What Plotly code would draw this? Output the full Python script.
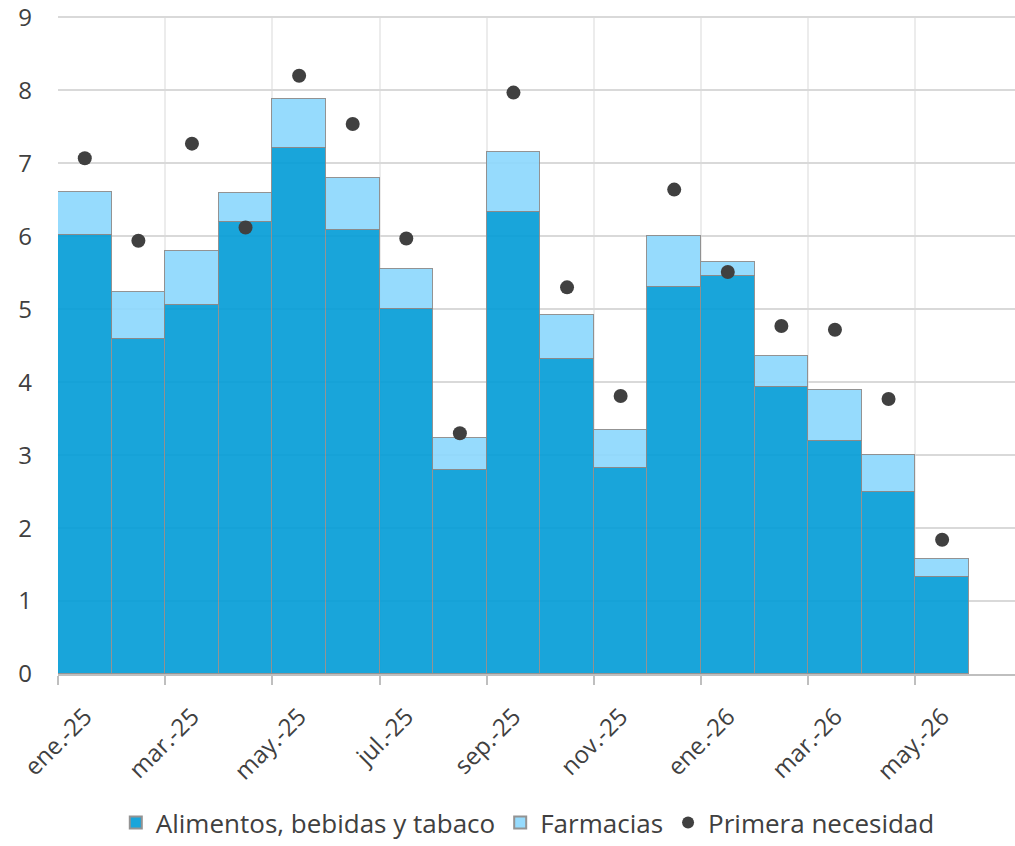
import plotly.graph_objects as go

months = ["ene.-25", "feb.-25", "mar.-25", "abr.-25", "may.-25", "jun.-25", "jul.-25",
          "ago.-25", "sep.-25", "oct.-25", "nov.-25", "dic.-25", "ene.-26", "feb.-26",
          "mar.-26", "abr.-26", "may.-26"]
alimentos = [6.02, 4.59, 5.06, 6.20, 7.21, 6.09, 5.00, 2.79, 6.33, 4.32, 2.82, 5.31,
             5.46, 3.94, 3.20, 2.49, 1.33]
farmacias = [0.59, 0.64, 0.74, 0.39, 0.67, 0.71, 0.55, 0.45, 0.82, 0.60, 0.52, 0.70,
             0.19, 0.42, 0.70, 0.51, 0.24]
primera = [7.07, 5.94, 7.27, 6.12, 8.20, 7.54, 5.97, 3.30, 7.97, 5.30, 3.81, 6.64,
           5.51, 4.77, 4.72, 3.77, 1.84]
tick_labels = months[::2]

n = len(months)
xc = [i + 0.5 for i in range(n)]
tickvals = list(range(0, n, 2))

font = "Open Sans, DejaVu Sans, sans-serif"
txt = "#404040"

fig = go.Figure()
fig.add_trace(go.Bar(
    x=xc, y=alimentos, width=1, name="Alimentos, bebidas y tabaco",
    marker=dict(color="#069ED7", line=dict(color="#8a8a8a", width=1)), opacity=0.92,
    customdata=months, hovertemplate="%{customdata}: %{y}<extra></extra>"))
fig.add_trace(go.Bar(
    x=xc, y=farmacias, width=1, name="Farmacias",
    marker=dict(color="#8ED8FD", line=dict(color="#8a8a8a", width=1)), opacity=0.92,
    customdata=months, hovertemplate="%{customdata}: %{y}<extra></extra>"))
fig.add_trace(go.Scatter(
    x=xc, y=primera, mode="markers", name="Primera necesidad",
    marker=dict(color="#404040", size=14),
    customdata=months, hovertemplate="%{customdata}: %{y}<extra></extra>"))

fig.update_layout(
    width=1015, height=846,
    barmode="stack", bargap=0,
    plot_bgcolor="white", paper_bgcolor="white",
    margin=dict(l=58, r=0, t=16, b=172, autoexpand=False),
    font=dict(family=font, size=25, color=txt),
    showlegend=True,
    legend=dict(orientation="h", xref="container", yref="container",
                x=0.52, xanchor="center", y=0.0, yanchor="bottom",
                font=dict(size=26, color=txt), traceorder="normal",
                itemsizing="constant"),
)
fig.update_xaxes(
    range=[0, 17.86], tickmode="array", tickvals=tickvals, ticktext=tick_labels,
    tickangle=-45, ticklabelshift=27, ticklabelstandoff=8, showgrid=True,
    gridcolor="#ececec", gridwidth=2, automargin=False,
    showline=True, linecolor="#bfbfbf", linewidth=2, ticks="outside", ticklen=9,
    tickcolor="#bfbfbf", tickwidth=2, zeroline=False,
    tickfont=dict(size=24, color=txt, family=font))
fig.update_yaxes(
    range=[0, 9.02], tickmode="array", tickvals=list(range(10)), showgrid=True,
    gridcolor="#d9d9d9", gridwidth=2, automargin=False, ticklabeloverflow="allow",
    showline=False, zeroline=False, ticks="", ticklabelstandoff=25,
    tickfont=dict(size=24, color=txt, family=font))

fig.write_html("out.html", config={"displayModeBar": False},
               post_script="document.body.style.margin='0';")
